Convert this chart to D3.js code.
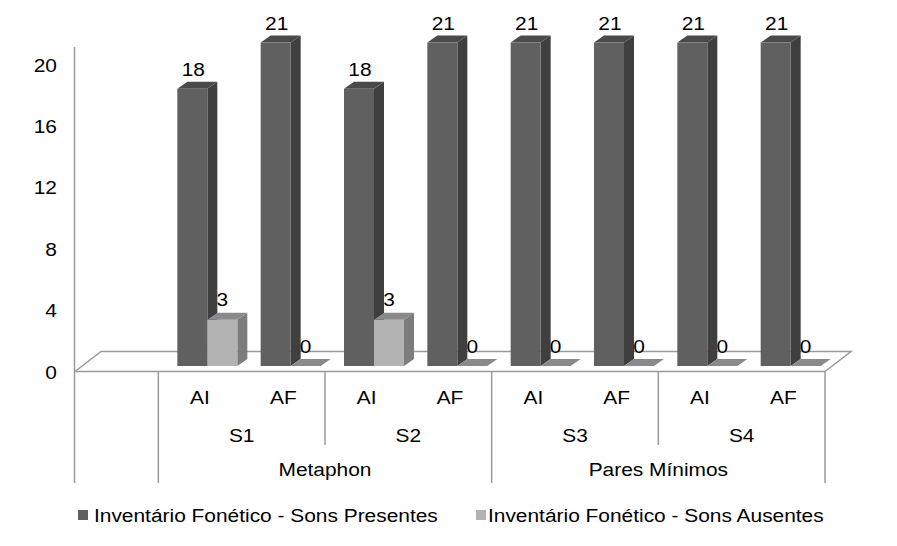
<!DOCTYPE html>
<html>
<head>
<meta charset="utf-8">
<script src="https://cdn.jsdelivr.net/npm/d3@7"></script>
<style>
  html, body { margin: 0; padding: 0; background: #fff; }
  svg { display: block; }
  text { font-family: "Liberation Sans", Arial, sans-serif; fill: #000; }
</style>
</head>
<body>
<svg id="chart" width="897" height="546"></svg>
<script>
// ---- data ----
const leafLabels = ["", "AI", "AF", "AI", "AF", "AI", "AF", "AI", "AF"];
const subjects = ["S1", "S2", "S3", "S4"];
const groups = ["Metaphon", "Pares Mínimos"];
const presentes = [null, 18, 21, 18, 21, 21, 21, 21, 21];
const ausentes  = [null, 3, 0, 3, 0, 0, 0, 0, 0];
const seriesNames = ["Inventário Fonético - Sons Presentes", "Inventário Fonético - Sons Ausentes"];
const yTicks = [0, 4, 8, 12, 16, 20];

// ---- layout ----
const svg = d3.select("#chart");
const SX = 1.1; // horizontal text stretch seen in reference
const FS = 19;
const depthX = 10, depthY = -7;
const floorDX = 26, floorDY = -20;

const x = d3.scaleBand().domain(d3.range(leafLabels.length)).range([75, 825]).padding(0);
const yAxis = d3.scaleLinear().domain([0, 20]).range([371.5, 64.5]);
const yBar = d3.scaleLinear().domain([0, 20]).range([366, 58]);
const barW = 30, barOff = 19;

const colors = {
  dark:  { front: "#606060", side: "#3f3f3f", top: "#4a4a4a" },
  light: { front: "#b3b3b3", side: "#7c7c7c", top: "#8a8a8a" }
};
const gridColor = "#9a9a9a";

function stretchedText(parent, tx, ty, str, anchor) {
  const g = parent.append("g").attr("transform", `translate(${tx},${ty}) scale(${SX},1)`);
  g.append("text").attr("x", 0).attr("y", 0)
    .attr("text-anchor", anchor || "middle")
    .style("font-size", FS + "px")
    .text(str);
  return g;
}

// ---- floor ----
const x0 = x.range()[0], x1 = x.range()[1], yF = yAxis(0);
svg.append("path")
  .attr("d", `M${x0},${yF} L${x0 + floorDX},${yF + floorDY} L${x1 + floorDX},${yF + floorDY} L${x1},${yF}`)
  .attr("fill", "none").attr("stroke", gridColor).attr("stroke-width", 1.5);

// ---- y axis line ----
svg.append("line")
  .attr("x1", 74.5).attr("x2", 74.5).attr("y1", 47).attr("y2", 483)
  .attr("stroke", gridColor).attr("stroke-width", 1.5);
svg.append("line")
  .attr("x1", x0).attr("x2", x1).attr("y1", yF).attr("y2", yF)
  .attr("stroke", gridColor).attr("stroke-width", 1.5);

// y tick labels
yTicks.forEach(t => {
  stretchedText(svg, 57, yAxis(t) + 7, String(t), "end");
});

// ---- bars ----
function drawBar(xl, v, c) {
  const yb = yBar(0), yt = yBar(v);
  const g = svg.append("g");
  if (v > 0) {
    g.append("path")
      .attr("d", `M${xl + barW},${yt} L${xl + barW + depthX},${yt + depthY} L${xl + barW + depthX},${yb + depthY} L${xl + barW},${yb}Z`)
      .attr("fill", c.side);
    g.append("rect").attr("x", xl).attr("y", yt).attr("width", barW).attr("height", yb - yt)
      .attr("fill", c.front);
  }
  g.append("path")
    .attr("d", `M${xl},${yt} L${xl + depthX},${yt + depthY} L${xl + barW + depthX},${yt + depthY} L${xl + barW},${yt}Z`)
    .attr("fill", c.top);
}

leafLabels.forEach((lab, i) => {
  if (presentes[i] === null) return;
  const xs = x(i) + barOff;
  drawBar(xs, presentes[i], colors.dark);
  drawBar(xs + barW, ausentes[i], colors.light);
});

// value labels
leafLabels.forEach((lab, i) => {
  if (presentes[i] === null) return;
  const xs = x(i) + barOff;
  stretchedText(svg, xs + barW / 2 + 1, yBar(presentes[i]) - 12.5, String(presentes[i]));
  stretchedText(svg, xs + barW + barW / 2, yBar(ausentes[i]) - 13.5, String(ausentes[i]));
});

// ---- category axis ----
const yLeaf = 404, ySubj = 442, yGroup = 476;
leafLabels.forEach((lab, i) => {
  if (!lab) return;
  stretchedText(svg, x(i) + x.bandwidth() / 2, yLeaf, lab);
});
subjects.forEach((s, k) => {
  const a = x(1 + 2 * k), b = x(2 + 2 * k) + x.bandwidth();
  stretchedText(svg, (a + b) / 2, ySubj, s);
});
groups.forEach((gname, k) => {
  const a = x(1 + 4 * k), b = x(4 + 4 * k) + x.bandwidth();
  stretchedText(svg, (a + b) / 2, yGroup, gname);
});

// separators
const sepFull = [x(1), x(5), x1];
const sepSubj = [x(3), x(7)];
sepFull.forEach(sx => svg.append("line").attr("x1", sx).attr("x2", sx).attr("y1", yF).attr("y2", 483)
  .attr("stroke", gridColor).attr("stroke-width", 1.5));
sepSubj.forEach(sx => svg.append("line").attr("x1", sx).attr("x2", sx).attr("y1", yF).attr("y2", 445)
  .attr("stroke", gridColor).attr("stroke-width", 1.5));

// ---- legend ----
const legend = [
  { name: seriesNames[0], color: colors.dark.front, mx: 78, tx: 95 },
  { name: seriesNames[1], color: colors.light.front, mx: 476, tx: 489 }
];
legend.forEach(l => {
  svg.append("rect").attr("x", l.mx).attr("y", 510).attr("width", 10).attr("height", 10).attr("fill", l.color);
  stretchedText(svg, l.tx - 1, 522, l.name, "start");
});
</script>
</body>
</html>
